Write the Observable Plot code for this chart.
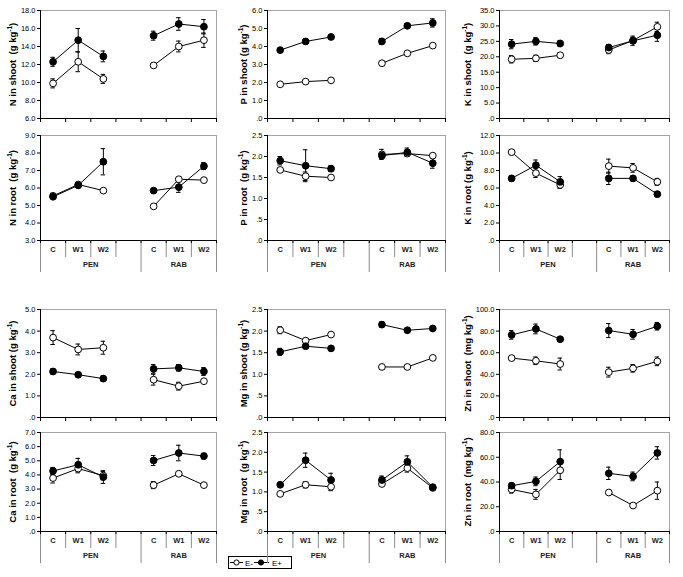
<!DOCTYPE html>
<html><head><meta charset="utf-8">
<script src="https://cdn.jsdelivr.net/npm/d3@7"></script>
<script src="https://cdn.jsdelivr.net/npm/@observablehq/plot@0.6"></script>
<style>
body{margin:0;background:#fff;}
#chart{position:relative;width:683px;height:577px;background:#fff;font-family:"Liberation Sans",Arial,sans-serif;overflow:hidden;}
#chart svg.plot{position:absolute;}
#legend{position:absolute;left:228px;top:556px;width:62px;height:11px;border:1px solid #000;background:#fff;}
</style></head><body><div id="chart"><div id="legend"></div></div>
<script>
// ---- category axis ----
const slotLabels = ["C", "W1", "W2", "", "C", "W1", "W2"];
const siteLabels = ["PEN", "RAB"];
const siteSlotSpans = [[0, 4], [4, 7]];
const siteSlotStart = [0, 4];
const treatments = ["C", "W1", "W2"];
const seriesNames = ["E-", "E+"];

// ---- values (PEN C, W1, W2, RAB C, W1, W2) ----
const nShootEminus = [9.9, 12.3, 10.4, 11.9, 14.0, 14.7];
const nShootEminusSE = [0.5, 1.1, 0.5, 0.1, 0.6, 0.8];
const nShootEplus = [12.3, 14.7, 12.9, 15.2, 16.5, 16.2];
const nShootEplusSE = [0.5, 1.3, 0.6, 0.5, 0.7, 0.8];

const nRootEminus = [5.55, 6.2, 5.85, 4.95, 6.5, 6.45];
const nRootEminusSE = [0.15, 0.1, 0.05, 0.05, 0.05, 0.05];
const nRootEplus = [5.5, 6.15, 7.5, 5.85, 6.05, 7.25];
const nRootEplusSE = [0.1, 0.05, 0.75, 0.05, 0.3, 0.2];

const pShootEminus = [1.9, 2.05, 2.12, 3.07, 3.62, 4.05];
const pShootEminusSE = [0.05, 0.05, 0.05, 0.05, 0.05, 0.05];
const pShootEplus = [3.8, 4.28, 4.53, 4.28, 5.15, 5.31];
const pShootEplusSE = [0.05, 0.08, 0.05, 0.17, 0.13, 0.23];

const pRootEminus = [1.68, 1.53, 1.5, 2.05, 2.07, 2.02];
const pRootEminusSE = [0.04, 0.1, 0.03, 0.12, 0.05, 0.04];
const pRootEplus = [1.9, 1.78, 1.71, 2.02, 2.1, 1.84];
const pRootEplusSE = [0.1, 0.38, 0.07, 0.06, 0.1, 0.12];

const kShootEminus = [19.2, 19.5, 20.5, 22.2, 25.3, 29.7];
const kShootEminusSE = [1.2, 1.0, 0.8, 1.2, 1.0, 1.5];
const kShootEplus = [24.1, 25.0, 24.3, 23.0, 25.2, 27.0];
const kShootEplusSE = [1.5, 1.2, 1.0, 1.0, 1.5, 2.0];

const kRootEminus = [10.1, 7.7, 6.35, 8.5, 8.3, 6.7];
const kRootEminusSE = [0.3, 0.5, 0.4, 0.8, 0.5, 0.4];
const kRootEplus = [7.1, 8.6, 6.7, 7.1, 7.1, 5.3];
const kRootEplusSE = [0.3, 0.6, 0.6, 0.7, 0.3, 0.3];

const caShootEminus = [3.7, 3.15, 3.23, 1.75, 1.45, 1.68];
const caShootEminusSE = [0.32, 0.25, 0.3, 0.25, 0.18, 0.05];
const caShootEplus = [2.13, 1.98, 1.8, 2.25, 2.3, 2.13];
const caShootEplusSE = [0.12, 0.1, 0.13, 0.2, 0.15, 0.18];

const caRootEminus = [3.78, 4.45, 3.95, 3.28, 4.08, 3.28];
const caRootEminusSE = [0.35, 0.3, 0.3, 0.25, 0.12, 0.05];
const caRootEplus = [4.28, 4.72, 3.85, 5.02, 5.55, 5.33];
const caRootEplusSE = [0.25, 0.45, 0.45, 0.35, 0.55, 0.2];

const mgShootEminus = [2.02, 1.78, 1.92, 1.17, 1.17, 1.38];
const mgShootEminusSE = [0.08, 0.03, 0.04, 0.05, 0.02, 0.03];
const mgShootEplus = [1.52, 1.65, 1.6, 2.15, 2.02, 2.06];
const mgShootEplusSE = [0.08, 0.04, 0.03, 0.06, 0.03, 0.03];

const mgRootEminus = [0.95, 1.18, 1.13, 1.2, 1.6, 1.1];
const mgRootEminusSE = [0.03, 0.08, 0.1, 0.05, 0.1, 0.04];
const mgRootEplus = [1.18, 1.8, 1.3, 1.3, 1.76, 1.12];
const mgRootEplusSE = [0.03, 0.18, 0.17, 0.1, 0.15, 0.05];

const znShootEminus = [55, 52.5, 49.5, 42, 45.5, 52];
const znShootEminusSE = [1.5, 3.5, 5.5, 4.5, 3.5, 4];
const znShootEplus = [76.5, 82, 72.5, 80.5, 77, 84.5];
const znShootEplusSE = [4, 4.5, 2, 6.5, 4.5, 3.5];

const znRootEminus = [34, 30, 49.5, 31.5, 21, 33];
const znRootEminusSE = [3, 4, 7.5, 0.5, 0.5, 7];
const znRootEplus = [37, 40.5, 56.5, 47, 44.5, 63.5];
const znRootEplusSE = [2, 3.5, 9.5, 5, 3.5, 5];

// ---- y tick labels ----
const nShootTicks = [6, 8, 10, 12, 14, 16, 18];
const nRootTicks = [3, 4, 5, 6, 7, 8, 9];
const pShootTicks = [0, 1, 2, 3, 4, 5, 6];
const pRootTicks = [0, 0.5, 1, 1.5, 2, 2.5];
const kShootTicks = [0, 5, 10, 15, 20, 25, 30, 35];
const kRootTicks = [0, 2, 4, 6, 8, 10, 12];
const caShootTicks = [0, 1, 2, 3, 4, 5];
const caRootTicks = [0, 1, 2, 3, 4, 5, 6, 7];
const mgShootTicks = [0, 0.5, 1, 1.5, 2, 2.5];
const mgRootTicks = [0, 0.5, 1, 1.5, 2, 2.5];
const znShootTicks = [0, 20, 40, 60, 80, 100];
const znRootTicks = [0, 20, 40, 60, 80];

// ---- panel titles ----
const titles = [
  ["N in shoot  (g kg", ")"], ["P in shoot (g kg", ")"], ["K in shoot  (g kg", ")"],
  ["N in root  (g kg", ")"], ["P in root  (g kg", ")"], ["K in root (g kg", ")"],
  ["Ca in shoot (g kg", ")"], ["Mg in shoot (g kg", ")"], ["Zn in shoot  (mg kg", ")"],
  ["Ca in root  (g kg", ")"], ["Mg in root  (g kg", ")"], ["Zn in root  (mg kg", ")"]
];

const panels = [
  [nShootEminus, nShootEminusSE, nShootEplus, nShootEplusSE, nShootTicks],
  [pShootEminus, pShootEminusSE, pShootEplus, pShootEplusSE, pShootTicks],
  [kShootEminus, kShootEminusSE, kShootEplus, kShootEplusSE, kShootTicks],
  [nRootEminus, nRootEminusSE, nRootEplus, nRootEplusSE, nRootTicks],
  [pRootEminus, pRootEminusSE, pRootEplus, pRootEplusSE, pRootTicks],
  [kRootEminus, kRootEminusSE, kRootEplus, kRootEplusSE, kRootTicks],
  [caShootEminus, caShootEminusSE, caShootEplus, caShootEplusSE, caShootTicks],
  [mgShootEminus, mgShootEminusSE, mgShootEplus, mgShootEplusSE, mgShootTicks],
  [znShootEminus, znShootEminusSE, znShootEplus, znShootEplusSE, znShootTicks],
  [caRootEminus, caRootEminusSE, caRootEplus, caRootEplusSE, caRootTicks],
  [mgRootEminus, mgRootEminusSE, mgRootEplus, mgRootEplusSE, mgRootTicks],
  [znRootEminus, znRootEminusSE, znRootEplus, znRootEplusSE, znRootTicks]
];

// ---- layout ----
const cols = [
  {left: 0, width: 228, ml: 40, mr: 12, titleX: 12},
  {left: 228, width: 227, ml: 39, mr: 10, titleX: 15},
  {left: 455, width: 228, ml: 44, mr: 14, titleX: 12}
];
const rows = [
  {top: 0, height: 126, mt: 10, mb: 8, labels: false},
  {top: 126, height: 159, mt: 9, mb: 45, labels: true},
  {top: 285, height: 139, mt: 24, mb: 7, labels: false},
  {top: 424, height: 153, mt: 8, mb: 46, labels: true}
];

const fmt = d => d3.format(".1f")(d).replace(/^0\./, ".");
const chart = document.getElementById("chart");
const nSlots = slotLabels.length;
const boundaries = d3.range(nSlots + 1);
const longBoundaries = [0, ...siteSlotStart.slice(1), nSlots];

panels.forEach((p, i) => {
  const [em, emSE, ep, epSE, ticks] = p;
  const col = cols[i % 3], row = rows[Math.floor(i / 3)];
  const data = [];
  [[em, emSE, "E-"], [ep, epSE, "E+"]].forEach(([vals, ses, s]) => {
    vals.forEach((v, j) => {
      const site = Math.floor(j / 3), t = j % 3;
      data.push({series: s, site: siteLabels[site], trt: treatments[t],
        slot: siteSlotStart[site] + t, y: v, lo: v - ses[j], hi: v + ses[j],
        key: s + siteLabels[site]});
    });
  });
  data.forEach(d => d.x = d.slot + 0.5);
  const innerH = row.height - row.mt - row.mb;
  const y0 = ticks[0], y1 = ticks[ticks.length - 1];
  const marks = [
    Plot.frame({stroke: "#a3a3a3", strokeWidth: 1}),
    Plot.ruleX([0], {stroke: "#000", strokeWidth: 1}),
    Plot.ruleY([y0], {stroke: "#000", strokeWidth: 1}),
    Plot.axisY(ticks, {tickSize: 3, tickPadding: 2, fontSize: 7.5, tickFormat: fmt, label: null, color: "#000"})
  ];
  if (!row.labels) {
    marks.push(Plot.ruleX(boundaries, {x: d => d, insetTop: innerH, insetBottom: -4, stroke: "#000"}));
  } else {
    marks.push(Plot.ruleX(boundaries.filter(b => !longBoundaries.includes(b)), {x: d => d, insetTop: innerH, insetBottom: -17, stroke: "#8c8c8c"}));
    marks.push(Plot.ruleX(longBoundaries, {x: d => d, insetTop: innerH, insetBottom: -32, stroke: "#8c8c8c"}));
    marks.push(Plot.ruleX(boundaries, {x: d => d, insetTop: innerH, insetBottom: -3, stroke: "#000"}));
    marks.push(Plot.text(slotLabels.map((l, k) => ({l, k})), {x: d => d.k + 0.5, text: "l", frameAnchor: "bottom", dy: 11.5, fontSize: 7.5, fontWeight: "bold", fill: "#222"}));
    marks.push(Plot.text(siteLabels.map((l, k) => ({l, k})), {x: d => (siteSlotSpans[d.k][0] + siteSlotSpans[d.k][1]) / 2, text: "l", frameAnchor: "bottom", dy: 26.5, fontSize: 7.5, fontWeight: "bold", fill: "#222"}));
  }
  seriesNames.forEach(s => {
    const ds = data.filter(d => d.series === s);
    marks.push(Plot.ruleX(ds, {x: "x", y1: "lo", y2: "hi", stroke: "#000", strokeWidth: 1}));
    marks.push(Plot.ruleY(ds, {y: "lo", x1: d => d.x - 0.09, x2: d => d.x + 0.09, stroke: "#000", strokeWidth: 1}));
    marks.push(Plot.ruleY(ds, {y: "hi", x1: d => d.x - 0.09, x2: d => d.x + 0.09, stroke: "#000", strokeWidth: 1}));
  });
  marks.push(Plot.line(data, {x: "x", y: "y", z: "key", stroke: "#000", strokeWidth: 1}));
  marks.push(Plot.dot(data.filter(d => d.series === "E-"), {x: "x", y: "y", r: 3.4, fill: "#fff", stroke: "#000", strokeWidth: 1}));
  marks.push(Plot.dot(data.filter(d => d.series === "E+"), {x: "x", y: "y", r: 3.4, fill: "#000", stroke: "#000", strokeWidth: 1}));
  const tt = titles[i];
  marks.push(Plot.text([tt[0] + "-1" + tt[1]], {text: d => d, frameAnchor: "left", rotate: -90, dx: -(col.ml - col.titleX), fontSize: 9.5, fontWeight: "bold", fill: "#000", textAnchor: "middle"}));

  const svg = Plot.plot({
    width: col.width, height: row.height,
    marginLeft: col.ml, marginRight: col.mr, marginTop: row.mt, marginBottom: row.mb,
    style: {background: "transparent", overflow: "visible", fontFamily: "'Liberation Sans', Arial, sans-serif", color: "#000"},
    x: {domain: [0, nSlots], axis: null},
    y: {domain: [y0, y1], axis: null},
    marks
  });
  svg.style.left = col.left + "px";
  svg.style.top = row.top + "px";
  svg.style.position = "absolute";
  svg.querySelectorAll("text").forEach(t => {
    const s = t.textContent;
    if (s === tt[0] + "-1" + tt[1]) {
      t.textContent = "";
      const ns = "http://www.w3.org/2000/svg";
      const a = document.createElementNS(ns, "tspan"); a.textContent = tt[0];
      const b = document.createElementNS(ns, "tspan"); b.textContent = "-1"; b.setAttribute("dy", "-3.5"); b.setAttribute("font-size", "6.5");
      const c = document.createElementNS(ns, "tspan"); c.textContent = tt[1]; c.setAttribute("dy", "3.5");
      t.append(a, b, c);
    }
  });
  chart.appendChild(svg);
});

// ---- legend ----
const legend = document.getElementById("legend");
legend.innerHTML = `<svg width="62" height="11" style="position:absolute;left:0;top:0;font-family:'Liberation Sans',Arial,sans-serif">
  <line x1="1" y1="5.5" x2="14" y2="5.5" stroke="#000"/><circle cx="7.5" cy="5.5" r="2.6" fill="#fff" stroke="#000"/>
  <text x="16" y="8.5" font-size="8">${seriesNames[0]}</text>
  <line x1="25" y1="5.5" x2="40" y2="5.5" stroke="#000"/><circle cx="32" cy="5.5" r="2.6" fill="#000" stroke="#000"/>
  <text x="43" y="8.5" font-size="8">${seriesNames[1]}</text></svg>`;
</script></body></html>
